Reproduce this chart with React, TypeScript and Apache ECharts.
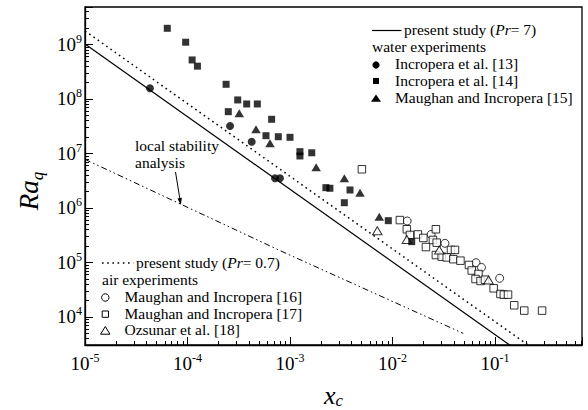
import React, { useEffect, useRef } from 'react';
import * as echarts from 'echarts';

const FONT = 'Liberation Serif, serif';
const FS = 15.5;

// axis extents (log-log)
const X_MIN = 1e-5;
const X_MAX = 0.706;
const Y_MIN = 3063;
const Y_MAX = 4.87e9;

// present study correlations
const pr7Line: number[][] = [[1e-5, 1.02e9], [0.3, 1.1e3]];
const pr07Line: number[][] = [[1e-5, 1.77e9], [0.3, 1.9e3]];
const stabilityLine: number[][] = [[1e-5, 7.8e6], [8e-4, 1.65e5], [4.9e-2, 5.0e3]];

// water experiments
const incropera13: number[][] = [
  [4.3e-5, 1.57e8], [2.6e-4, 3.2e7], [4.23e-4, 1.64e7], [7.14e-4, 3.5e6], [7.98e-4, 3.5e6],
];
const incropera14: number[][] = [
  [6.35e-5, 1.98e9], [9.6e-5, 1.1e9], [1.11e-4, 5.2e8], [1.25e-4, 4.0e8], [2.38e-4, 1.86e8],
  [2.5e-4, 5.85e7], [3.09e-4, 9.6e7], [3.78e-4, 8.1e7], [4.8e-4, 8.1e7], [6.62e-4, 4.24e7],
  [5.83e-4, 2.12e7], [7.69e-4, 2.03e7], [1.0e-3, 1.98e7], [1.25e-3, 1.08e7], [1.25e-3, 9.0e6],
  [1.63e-3, 1.03e7], [2.24e-3, 2.36e6], [2.45e-3, 2.3e6], [3.85e-3, 2.14e6], [3.39e-3, 1.25e6],
  [9.1e-3, 5.85e5], [1.54e-2, 2.41e5],
];
const maughan15: number[][] = [
  [3.2e-4, 5.47e7], [4.66e-4, 2.78e7], [6.38e-4, 1.54e7], [1.8e-3, 5.6e6], [3.39e-3, 3.5e6],
  [4.82e-3, 1.91e6], [7.43e-3, 6.9e5],
];

// air experiments
const maughan16: number[][] = [
  [1.39e-2, 5.77e5], [2.38e-2, 3.27e5], [3.25e-2, 2.25e5], [6.53e-2, 9.9e4], [7.38e-2, 8.1e4],
  [0.111, 5.13e4],
];
const maughan17: number[][] = [
  [5.03e-3, 5.13e6], [1.18e-2, 6.0e5], [1.38e-2, 4.07e5], [1.48e-2, 3.2e5], [1.77e-2, 3.27e5],
  [2.0e-2, 2.82e5], [2.65e-2, 4.07e5], [2.48e-2, 2.59e5], [2.12e-2, 1.92e5], [2.7e-2, 2.31e5],
  [3.72e-2, 1.7e5], [4.07e-2, 1.7e5], [2.65e-2, 1.37e5], [3.02e-2, 1.28e5], [3.38e-2, 1.24e5],
  [3.92e-2, 1.15e5], [4.6e-2, 1.08e5], [5.57e-2, 9.0e4], [5.93e-2, 7.13e4], [6.9e-2, 6.15e4],
  [6.46e-2, 4.98e4], [7.23e-2, 4.58e4], [7.98e-2, 4.83e4], [9.7e-2, 3.36e4], [0.113, 2.64e4],
  [0.122, 2.57e4], [0.134, 2.57e4], [0.154, 1.64e4], [0.193, 1.31e4], [0.288, 1.31e4],
];
const ozsunar18: number[][] = [
  [7.11e-3, 3.83e5], [1.38e-2, 2.64e5], [2.86e-2, 1.7e5], [8.65e-2, 4.77e4],
];

// minor tick positions (2..9 × 10^n)
const MINOR_MULTS = [2, 3, 4, 5, 6, 7, 8, 9];
const X_DECADES = [-6, -5, -4, -3, -2, -1];
const Y_DECADES = [3, 4, 5, 6, 7, 8, 9];

function minorTicks(decades: number[], lo: number, hi: number): number[] {
  const out: number[] = [];
  decades.forEach((d) => MINOR_MULTS.forEach((m) => {
    const v = m * Math.pow(10, d);
    if (v > lo && v < hi) out.push(v);
  }));
  return out;
}

const powLabel = (v: number) => {
  const e = Math.log10(v);
  const r = Math.round(e);
  if (Math.abs(e - r) > 1e-6) return '';
  return `{b|10}{s|${r}}`;
};

const tickRich = {
  b: { fontFamily: FONT, fontSize: 19, lineHeight: 23, color: '#000' },
  s: { fontFamily: FONT, fontSize: 12, lineHeight: 11, verticalAlign: 'top', color: '#000' },
};

const txt = (x: number, y: number, text: string) => ({
  type: 'text',
  x,
  y,
  silent: true,
  style: {
    text,
    fontFamily: FONT,
    fontSize: FS,
    fill: '#000',
    align: 'left',
    verticalAlign: 'middle',
    rich: {
      i: { fontFamily: FONT, fontSize: FS, fontStyle: 'italic', fill: '#000' },
    },
  },
});

export default function App() {
  const ref = useRef<HTMLDivElement>(null);

  useEffect(() => {
    if (!ref.current) return;
    const chart = echarts.init(ref.current, undefined, { renderer: 'svg' });

    const axisLineStyle = { color: '#000', width: 1.3 };

    const option: any = {
      animation: false,
      backgroundColor: '#fff',
      textStyle: { fontFamily: FONT },
      grid: {
        left: 85, top: 7, width: 497, height: 338,
        outerBoundsMode: 'none', containLabel: false,
        show: true, borderColor: '#000', borderWidth: 1.3, backgroundColor: 'transparent',
      },
      xAxis: [
        {
          type: 'log', logBase: 10, min: X_MIN, max: X_MAX, position: 'bottom',
          axisLine: { show: true, lineStyle: axisLineStyle },
          axisTick: { show: true, inside: true, length: 8, lineStyle: { color: '#000', width: 1 } },
          axisLabel: { formatter: powLabel, rich: tickRich, margin: 6.5, color: '#000', fontFamily: FONT },
          splitLine: { show: false },
          name: '{x|x}{c|c}',
          nameLocation: 'middle',
          nameGap: 36,
          nameTextStyle: {
            fontFamily: FONT,
            rich: {
              x: { fontFamily: FONT, fontStyle: 'italic', fontSize: 26, lineHeight: 28, color: '#000' },
              c: { fontFamily: FONT, fontStyle: 'italic', fontSize: 17, lineHeight: 17, verticalAlign: 'bottom', color: '#000' },
            },
          },
        },
        {
          type: 'log', logBase: 10, min: X_MIN, max: X_MAX, position: 'bottom',
          axisLine: { show: false },
          axisTick: {
            show: true, inside: true, length: 4,
            customValues: minorTicks(X_DECADES, X_MIN, X_MAX),
            lineStyle: { color: '#000', width: 1 },
          },
          axisLabel: { show: false },
          splitLine: { show: false },
        },
      ],
      yAxis: [
        {
          type: 'log', logBase: 10, min: Y_MIN, max: Y_MAX, position: 'left',
          axisLine: { show: true, lineStyle: axisLineStyle },
          axisTick: { show: true, inside: true, length: 8, lineStyle: { color: '#000', width: 1 } },
          axisLabel: { formatter: powLabel, rich: tickRich, margin: 3, color: '#000', fontFamily: FONT },
          splitLine: { show: false },
          name: '{a|Ra}{b|q}',
          nameLocation: 'middle',
          nameRotate: 90,
          nameGap: 32,
          nameTextStyle: {
            fontFamily: FONT,
            padding: [0, 30, 0, 0],
            rich: {
              a: { fontFamily: FONT, fontStyle: 'italic', fontSize: 27, lineHeight: 34, color: '#000' },
              b: { fontFamily: FONT, fontStyle: 'italic', fontSize: 17, lineHeight: 17, verticalAlign: 'bottom', color: '#000' },
            },
          },
        },
        {
          type: 'log', logBase: 10, min: Y_MIN, max: Y_MAX, position: 'left',
          axisLine: { show: false },
          axisTick: {
            show: true, inside: true, length: 4,
            customValues: minorTicks(Y_DECADES, Y_MIN, Y_MAX),
            lineStyle: { color: '#000', width: 1 },
          },
          axisLabel: { show: false },
          splitLine: { show: false },
        },
      ],
      series: [
        {
          name: 'present study (Pr= 7)', type: 'line', data: pr7Line, symbol: 'none', clip: true,
          lineStyle: { color: '#000', width: 1.2, type: 'solid' }, z: 2,
        },
        {
          name: 'present study (Pr= 0.7)', type: 'line', data: pr07Line, symbol: 'none', clip: true,
          lineStyle: { color: '#000', width: 1.5, type: [1.6, 3.6] }, z: 2,
        },
        {
          name: 'local stability analysis', type: 'line', data: stabilityLine, symbol: 'none', clip: true,
          lineStyle: { color: '#000', width: 1, type: [6, 3, 1.5, 3, 1.5, 3] }, z: 2,
        },
        {
          name: 'Maughan and Incropera [16]', type: 'scatter', data: maughan16, symbol: 'circle', symbolSize: 8,
          itemStyle: { color: '#fff', borderColor: '#000', borderWidth: 1 }, z: 3,
        },
        {
          name: 'Maughan and Incropera [17]', type: 'scatter', data: maughan17, symbol: 'rect', symbolSize: 7.5,
          itemStyle: { color: '#fff', borderColor: '#000', borderWidth: 1 }, z: 3,
        },
        {
          name: 'Ozsunar et al. [18]', type: 'scatter', data: ozsunar18, symbol: 'triangle', symbolSize: [9.5, 8],
          itemStyle: { color: '#fff', borderColor: '#000', borderWidth: 1 }, z: 3,
        },
        {
          name: 'Incropera et al. [13]', type: 'scatter', data: incropera13, symbol: 'circle', symbolSize: 8,
          itemStyle: { color: '#000' }, z: 4,
        },
        {
          name: 'Incropera et al. [14]', type: 'scatter', data: incropera14, symbol: 'rect', symbolSize: 7,
          itemStyle: { color: '#000' }, z: 4,
        },
        {
          name: 'Maughan and Incropera [15]', type: 'scatter', data: maughan15, symbol: 'triangle', symbolSize: [9.5, 8],
          itemStyle: { color: '#000' }, z: 4,
        },
      ],
      graphic: [
        // upper legend (water)
        { type: 'line', silent: true, shape: { x1: 372, y1: 30.5, x2: 401.5, y2: 30.5 }, style: { stroke: '#000', lineWidth: 1.2 } },
        txt(404, 29.5, 'present study ({i|Pr}= 7)'),
        txt(372, 46.5, 'water experiments'),
        { type: 'circle', silent: true, shape: { cx: 376, cy: 65, r: 3.6 }, style: { fill: '#000' } },
        txt(395, 63.5, 'Incropera et al. [13]'),
        { type: 'rect', silent: true, shape: { x: 373, y: 78, width: 6, height: 6 }, style: { fill: '#000' } },
        txt(395, 80, 'Incropera et al. [14]'),
        { type: 'polygon', silent: true, shape: { points: [[371, 101.8], [381, 101.8], [376, 94.6]] }, style: { fill: '#000' } },
        txt(395, 97.5, 'Maughan and Incropera [15]'),
        // lower legend (air)
        { type: 'line', silent: true, shape: { x1: 102, y1: 263, x2: 133.5, y2: 263 }, style: { stroke: '#000', lineWidth: 1.5, lineDash: [1.6, 3.6] } },
        txt(136, 262, 'present study ({i|Pr}= 0.7)'),
        txt(102, 279, 'air experiments'),
        { type: 'circle', silent: true, shape: { cx: 105.3, cy: 297.5, r: 3.7 }, style: { fill: '#fff', stroke: '#000', lineWidth: 1 } },
        txt(124.5, 296, 'Maughan and Incropera [16]'),
        { type: 'rect', silent: true, shape: { x: 102.2, y: 311, width: 6.3, height: 6.3 }, style: { fill: '#fff', stroke: '#000', lineWidth: 1 } },
        txt(124.5, 313, 'Maughan and Incropera [17]'),
        { type: 'polygon', silent: true, shape: { points: [[100.6, 334.2], [110, 334.2], [105.3, 326.5]] }, style: { fill: '#fff', stroke: '#000', lineWidth: 1 } },
        txt(124.5, 329.5, 'Ozsunar et al. [18]'),
        // annotation
        txt(135, 145, 'local stability'),
        txt(135, 162.5, 'analysis'),
        { type: 'line', silent: true, shape: { x1: 175.5, y1: 172, x2: 179.9, y2: 199 }, style: { stroke: '#000', lineWidth: 1 } },
        { type: 'polygon', silent: true, shape: { points: [[180.8, 205], [181.9, 197.8], [177.5, 198.5]] }, style: { fill: '#000' } },
      ],
    };

    chart.setOption(option);
    return () => chart.dispose();
  }, []);

  return (
    <div
      ref={ref}
      style={{ position: 'absolute', left: 0, top: 0, width: 588, height: 410, background: '#fff' }}
    />
  );
}
